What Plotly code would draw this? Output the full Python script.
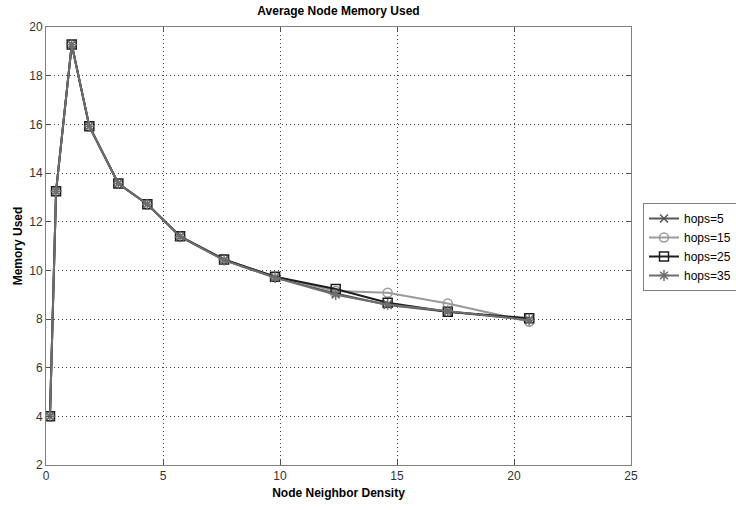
import plotly.graph_objects as go

density = [0.17, 0.43, 1.1, 1.85, 3.09, 4.33, 5.73, 7.61, 9.79, 12.38, 14.6, 17.17, 20.65]
hops5 = [4.0, 13.25, 19.28, 15.92, 13.57, 12.72, 11.38, 10.42, 9.70, 9.05, 8.58, 8.30, 7.98]
hops15 = [4.0, 13.25, 19.28, 15.92, 13.57, 12.72, 11.40, 10.45, 9.74, 9.15, 9.08, 8.64, 7.89]
hops25 = [4.0, 13.25, 19.28, 15.92, 13.57, 12.72, 11.40, 10.45, 9.74, 9.23, 8.67, 8.30, 8.03]
hops35 = [4.0, 13.25, 19.28, 15.92, 13.57, 12.72, 11.38, 10.42, 9.70, 9.00, 8.60, 8.33, 7.95]

series_names = ["hops=5", "hops=15", "hops=25", "hops=35"]
x_ticks = [0, 5, 10, 15, 20, 25]
y_ticks = [2, 4, 6, 8, 10, 12, 14, 16, 18, 20]

styles = [
    dict(color="#555555", symbol="x-thin-open", size=8),
    dict(color="#9a9a9a", symbol="circle-open", size=9),
    dict(color="#1e1e1e", symbol="square-open", size=9),
    dict(color="#6e6e6e", symbol="asterisk-open", size=9),
]

fig = go.Figure()
for name, ys, st in zip(series_names, [hops5, hops15, hops25, hops35], styles):
    fig.add_trace(go.Scatter(
        x=density, y=ys, name=name, mode="lines+markers",
        line=dict(color=st["color"], width=2),
        marker=dict(symbol=st["symbol"], size=st["size"], color=st["color"],
                    line=dict(color=st["color"], width=1.5)),
    ))

axis_common = dict(
    showline=True, linecolor="#808080", linewidth=1, mirror="ticks",
    ticks="inside", ticklen=5, tickcolor="#505050",
    showgrid=True, gridcolor="#444444", griddash="1px,3px", gridwidth=1,
    zeroline=False, automargin=False,
    tickfont=dict(family="Liberation Sans, Arial", size=12, color="#333333"),
)

fig.update_layout(
    width=736, height=510,
    margin=dict(l=46, r=105, t=27, b=45),
    paper_bgcolor="white", plot_bgcolor="white",
    title=dict(text="<b>Average Node Memory Used</b>", x=(46 + 631) / 2 / 736, xanchor="center",
               y=1 - 11 / 510, yanchor="middle",
               font=dict(family="Liberation Sans, Arial", size=12, color="#000000")),
    xaxis=dict(range=[0, 25], tickvals=x_ticks,
               title=dict(text="<b>Node Neighbor Density</b>", standoff=6,
                          font=dict(family="Liberation Sans, Arial", size=12, color="#000000")),
               **axis_common),
    yaxis=dict(range=[2, 20], tickvals=y_ticks,
               title=dict(text="<b>Memory Used</b>", standoff=4,
                          font=dict(family="Liberation Sans, Arial", size=12, color="#000000")),
               **axis_common),
    legend=dict(xref="container", yref="container",
                x=643 / 736, xanchor="left", y=1 - 203 / 510, yanchor="top",
                bordercolor="#808080", borderwidth=1, bgcolor="white",
                font=dict(family="Liberation Sans, Arial", size=12, color="#000000"),
                itemwidth=30, tracegroupgap=0),
    showlegend=True,
)

fig.write_html(
    "out.html",
    config={"responsive": False, "displayModeBar": False},
    post_script="document.body.style.margin='0';document.body.style.padding='0';document.body.style.overflow='hidden';",
)
